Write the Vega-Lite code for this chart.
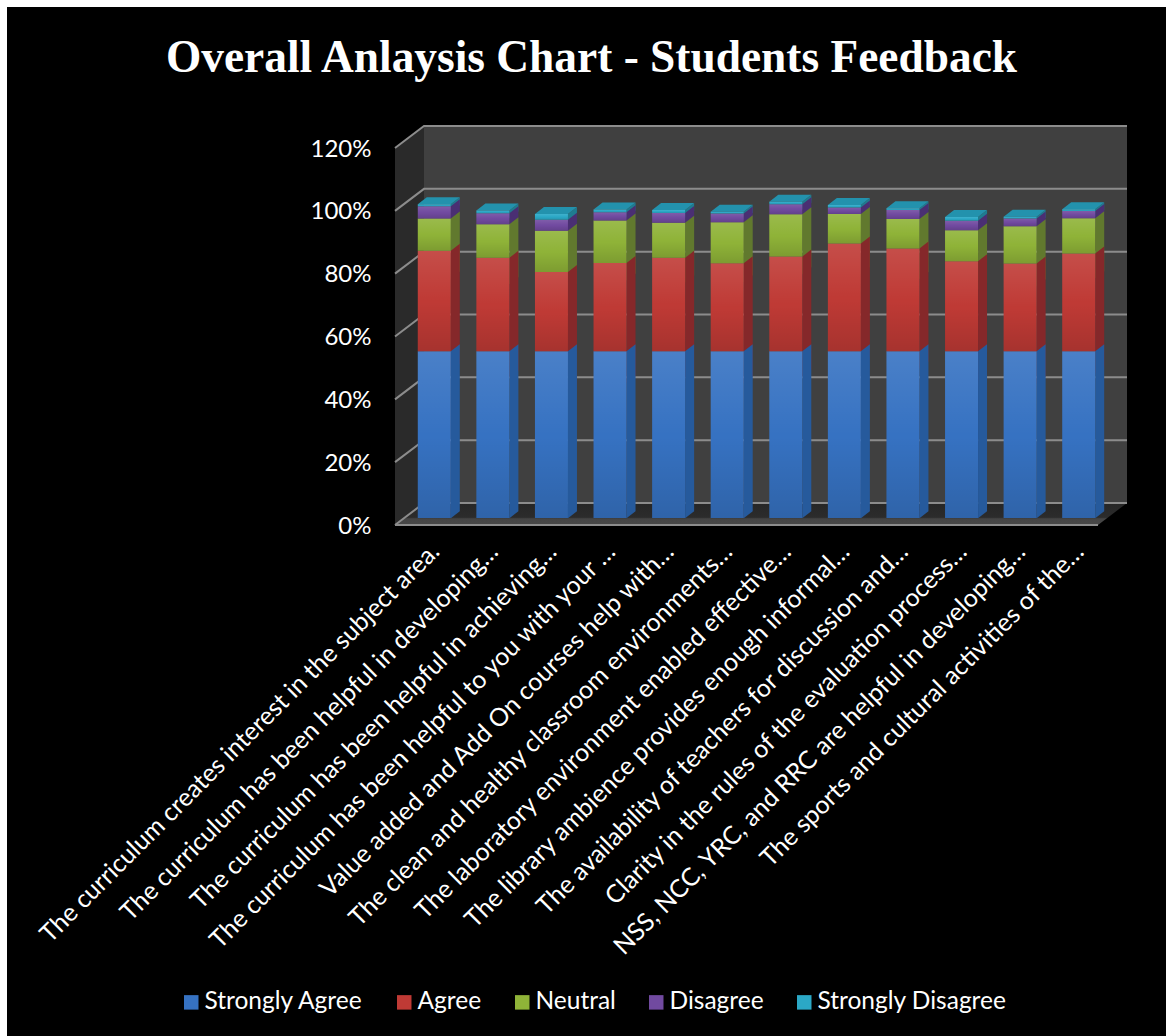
{
"$schema":"https://vega.github.io/schema/vega-lite/v6.json",
"width":703,"height":377,
"autosize":{"type":"none"},
"padding":{"left":395,"top":148,"right":68,"bottom":511},
"background":"#ffffff",
"title":{"text":"Overall Anlaysis Chart - Students Feedback","font":"Liberation Serif","fontWeight":"bold","fontSize":45.4,"color":"#ffffff","anchor":"middle","frame":"group","dx":-155,"offset":-74,"zindex":1},
"config":{"view":{"stroke":null}},
"datasets":{
"grid":[{"pct":0},{"pct":20},{"pct":40},{"pct":60},{"pct":80},{"pct":100},{"pct":120}],
"top":[{"pct":120}],
"zero":[{"pct":0}],
"feedback":[
{"item":"The curriculum creates interest in the subject area.","response":"Strongly Agree","value":53.1},{"item":"The curriculum creates interest in the subject area.","response":"Agree","value":32.0},{"item":"The curriculum creates interest in the subject area.","response":"Neutral","value":10.2},{"item":"The curriculum creates interest in the subject area.","response":"Disagree","value":3.9},{"item":"The curriculum creates interest in the subject area.","response":"Strongly Disagree","value":0.7},
{"item":"The curriculum has been helpful in developing…","response":"Strongly Agree","value":53.1},{"item":"The curriculum has been helpful in developing…","response":"Agree","value":29.7},{"item":"The curriculum has been helpful in developing…","response":"Neutral","value":10.7},{"item":"The curriculum has been helpful in developing…","response":"Disagree","value":3.5},{"item":"The curriculum has been helpful in developing…","response":"Strongly Disagree","value":0.9},
{"item":"The curriculum has been helpful in achieving…","response":"Strongly Agree","value":53.1},{"item":"The curriculum has been helpful in achieving…","response":"Agree","value":25.2},{"item":"The curriculum has been helpful in achieving…","response":"Neutral","value":13.1},{"item":"The curriculum has been helpful in achieving…","response":"Disagree","value":3.5},{"item":"The curriculum has been helpful in achieving…","response":"Strongly Disagree","value":1.9},
{"item":"The curriculum has been helpful to you with your …","response":"Strongly Agree","value":53.1},{"item":"The curriculum has been helpful to you with your …","response":"Agree","value":28.1},{"item":"The curriculum has been helpful to you with your …","response":"Neutral","value":13.5},{"item":"The curriculum has been helpful to you with your …","response":"Disagree","value":2.6},{"item":"The curriculum has been helpful to you with your …","response":"Strongly Disagree","value":0.9},
{"item":"Value added and Add On courses help with…","response":"Strongly Agree","value":53.1},{"item":"Value added and Add On courses help with…","response":"Agree","value":29.7},{"item":"Value added and Add On courses help with…","response":"Neutral","value":11.2},{"item":"Value added and Add On courses help with…","response":"Disagree","value":3.1},{"item":"Value added and Add On courses help with…","response":"Strongly Disagree","value":0.9},
{"item":"The clean and healthy classroom environments…","response":"Strongly Agree","value":53.1},{"item":"The clean and healthy classroom environments…","response":"Agree","value":28.0},{"item":"The clean and healthy classroom environments…","response":"Neutral","value":13.0},{"item":"The clean and healthy classroom environments…","response":"Disagree","value":2.8},{"item":"The clean and healthy classroom environments…","response":"Strongly Disagree","value":0.6},
{"item":"The laboratory environment enabled effective…","response":"Strongly Agree","value":53.1},{"item":"The laboratory environment enabled effective…","response":"Agree","value":30.1},{"item":"The laboratory environment enabled effective…","response":"Neutral","value":13.5},{"item":"The laboratory environment enabled effective…","response":"Disagree","value":3.2},{"item":"The laboratory environment enabled effective…","response":"Strongly Disagree","value":0.8},
{"item":"The library ambience provides enough informal…","response":"Strongly Agree","value":53.1},{"item":"The library ambience provides enough informal…","response":"Agree","value":34.3},{"item":"The library ambience provides enough informal…","response":"Neutral","value":9.4},{"item":"The library ambience provides enough informal…","response":"Disagree","value":2.0},{"item":"The library ambience provides enough informal…","response":"Strongly Disagree","value":0.8},
{"item":"The availability of teachers for discussion and…","response":"Strongly Agree","value":53.1},{"item":"The availability of teachers for discussion and…","response":"Agree","value":32.7},{"item":"The availability of teachers for discussion and…","response":"Neutral","value":9.4},{"item":"The availability of teachers for discussion and…","response":"Disagree","value":2.8},{"item":"The availability of teachers for discussion and…","response":"Strongly Disagree","value":0.6},
{"item":"Clarity in the rules of the evaluation process…","response":"Strongly Agree","value":53.1},{"item":"Clarity in the rules of the evaluation process…","response":"Agree","value":28.6},{"item":"Clarity in the rules of the evaluation process…","response":"Neutral","value":9.9},{"item":"Clarity in the rules of the evaluation process…","response":"Disagree","value":3.0},{"item":"Clarity in the rules of the evaluation process…","response":"Strongly Disagree","value":1.2},
{"item":"NSS, NCC, YRC, and RRC are helpful in developing…","response":"Strongly Agree","value":53.1},{"item":"NSS, NCC, YRC, and RRC are helpful in developing…","response":"Agree","value":27.9},{"item":"NSS, NCC, YRC, and RRC are helpful in developing…","response":"Neutral","value":11.9},{"item":"NSS, NCC, YRC, and RRC are helpful in developing…","response":"Disagree","value":2.4},{"item":"NSS, NCC, YRC, and RRC are helpful in developing…","response":"Strongly Disagree","value":0.6},
{"item":"The sports and cultural activities of the…","response":"Strongly Agree","value":53.1},{"item":"The sports and cultural activities of the…","response":"Agree","value":31.1},{"item":"The sports and cultural activities of the…","response":"Neutral","value":11.2},{"item":"The sports and cultural activities of the…","response":"Disagree","value":2.3},{"item":"The sports and cultural activities of the…","response":"Strongly Disagree","value":0.6}
]},
"layer":[
{"data":{"name":"top"},
 "mark":{"type":"point","filled":true,"opacity":1,"size":4,"fill":"#000000","shape":"M-739.5,-141L419.5,-141L419.5,888L-739.5,888Z"},
 "encoding":{"y":{"field":"pct","type":"quantitative","scale":{"domain":[0,120],"nice":false,"zero":true},"axis":{"values":[0,20,40,60,80,100,120],"labelExpr":"datum.value+'%'","title":null,"domain":false,"ticks":false,"grid":false,"labelColor":"#ffffff","labelFont":"Lato","labelFontSize":24,"labelPadding":24,"labelOffset":1,"zindex":1}}}},
{"data":{"name":"top"},
 "mark":{"type":"point","filled":true,"opacity":1,"size":4,"fill":"#404040","shape":"M-322.5,-22L380.5,-22L380.5,355L-322.5,355Z"},
 "encoding":{"y":{"field":"pct","type":"quantitative"}}},
{"data":{"name":"top"},
 "mark":{"type":"point","filled":true,"opacity":1,"size":4,"fill":"#2a2a2a","shape":"M-351.5,0L-322.5,-22L-322.5,355L-351.5,377Z"},
 "encoding":{"y":{"field":"pct","type":"quantitative"}}},
{"data":{"name":"zero"},
 "mark":{"type":"point","filled":true,"opacity":1,"size":4,"fill":{"gradient":"linear","x1":0,"y1":0,"x2":0,"y2":1,"stops":[{"offset":0,"color":"#262626"},{"offset":0.65,"color":"#2c2c2c"},{"offset":0.72,"color":"#454545"},{"offset":1,"color":"#484848"}]},"shape":"M-351.5,0L-322.5,-22L380.5,-22L351.5,0Z"},
 "encoding":{"y":{"field":"pct","type":"quantitative"}}},
{"data":{"name":"zero"},
 "mark":{"type":"point","filled":false,"opacity":1,"size":4,"stroke":"#8c8c8c","strokeWidth":2,"shape":"M-351.5,0L351.5,0"},
 "encoding":{"y":{"field":"pct","type":"quantitative"}}},
{"data":{"name":"grid"},
 "mark":{"type":"point","filled":false,"opacity":1,"size":4,"stroke":"#8c8c8c","strokeWidth":2,"shape":"M-351.5,0L-322.5,-22L380.5,-22"},
 "encoding":{"y":{"field":"pct","type":"quantitative"}}},
{"data":{"name":"feedback"},
 "transform":[{"stack":"value","groupby":["item"],"as":["y0","y1"]}],
 "mark":{"type":"point","filled":true,"opacity":1,"size":4,"xOffset":10,"yOffset":-7},
 "encoding":{
  "x":{"field":"item","type":"nominal","sort":null,"scale":{"type":"band","paddingInner":0,"paddingOuter":0},"axis":{"title":null,"labelAngle":-45,"labelAlign":"right","labelBaseline":"middle","labelColor":"#ffffff","labelFont":"Lato","labelFontSize":25,"labelLimit":0,"labelOffset":11,"labelPadding":22,"ticks":false,"domain":false,"grid":false,"zindex":1,"labelExpr":"datum.index===0?datum.label+'\u00a0\u00a0\u00a0':datum.label"}},
  "y":{"field":"y1","type":"quantitative"},
  "order":{"field":"y0","sort":"descending"},
  "shape":{"field":"response","type":"nominal","legend":null,"scale":{"domain":["Strongly Agree","Agree","Neutral","Disagree","Strongly Disagree"],"range":["M16.5,0L25.5,-7L25.5,160L16.5,167Z","M16.5,0L25.5,-7L25.5,113L16.5,120Z","M16.5,0L25.5,-7L25.5,53L16.5,60Z","M16.5,0L25.5,-7L25.5,9L16.5,16Z","M16.5,0L25.5,-7L25.5,1L16.5,8Z"]}},
  "color":{"field":"response","type":"nominal","legend":null,"scale":{"domain":["Strongly Agree","Agree","Neutral","Disagree","Strongly Disagree"],"range":["#265a9c","#85282a","#61792e","#4a2f73","#1f7c90"]}}
 }},
{"data":{"name":"feedback"},
 "transform":[{"stack":"value","groupby":["item"],"as":["y0","y1"]},{"filter":"datum.response==='Strongly Disagree'"}],
 "mark":{"type":"point","filled":true,"opacity":1,"size":4,"fill":"#2392ad","xOffset":10,"yOffset":-7,"shape":"M-16.5,0L16.5,0L25.5,-7L-7.5,-7Z"},
 "encoding":{
  "x":{"field":"item","type":"nominal","sort":null,"scale":{"type":"band","paddingInner":0,"paddingOuter":0}},
  "y":{"field":"y1","type":"quantitative"}
 }},
{"data":{"name":"feedback"},
 "transform":[{"stack":"value","groupby":["item"],"as":["y0","y1"]}],
 "mark":{"type":"bar","width":33,"xOffset":10,"yOffset":-7,"y2Offset":-7,"opacity":1},
 "encoding":{
  "x":{"field":"item","type":"nominal","sort":null,"scale":{"type":"band","paddingInner":0,"paddingOuter":0}},
  "y":{"field":"y1","type":"quantitative"},
  "y2":{"field":"y0"},
  "color":{"field":"response","type":"nominal","scale":{"domain":["Strongly Agree","Agree","Neutral","Disagree","Strongly Disagree"],"range":["#3672c2","#bf3a35","#8fb338","#714aa0","#2ba8c6"]},
   "legend":{"title":null,"orient":"none","legendX":-216,"legendY":842,"direction":"horizontal","columns":5,"symbolType":"square","symbolSize":210,"symbolStrokeWidth":0,"labelColor":"#ffffff","labelFont":"Lato","labelFontSize":24.5,"labelOffset":1,"columnPadding":28,"labelLimit":0}}
 }},
{"data":{"name":"feedback"},
 "transform":[{"stack":"value","groupby":["item"],"as":["y0","y1"]}],
 "mark":{"type":"bar","width":33,"xOffset":10,"yOffset":-7,"y2Offset":-7,"opacity":1,"fill":{"gradient":"linear","x1":0,"y1":0,"x2":0,"y2":1,"stops":[{"offset":0,"color":"rgba(255,255,255,0.1)"},{"offset":0.5,"color":"rgba(255,255,255,0)"},{"offset":0.51,"color":"rgba(0,0,0,0)"},{"offset":1,"color":"rgba(0,0,0,0.13)"}]}},
 "encoding":{
  "x":{"field":"item","type":"nominal","sort":null,"scale":{"type":"band","paddingInner":0,"paddingOuter":0}},
  "y":{"field":"y1","type":"quantitative"},
  "y2":{"field":"y0"}
 }}
],
"resolve":{"scale":{"color":"independent","shape":"independent"}}
}
